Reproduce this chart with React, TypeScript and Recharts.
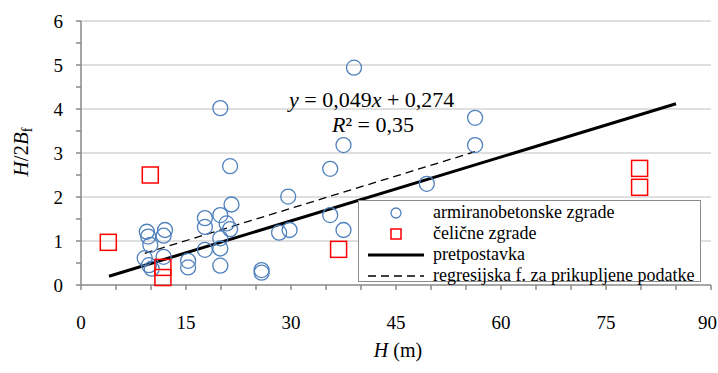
import { ComposedChart, Line, ReferenceLine, Scatter, XAxis, YAxis } from "recharts";

// armiranobetonske zgrade: visina H (m) i omjer H/2Bf
const rcH = [
  39.0, 19.9, 56.3, 37.5, 56.3, 21.3, 35.6, 49.4, 29.6, 21.5, 35.6, 19.9, 17.7, 17.7, 20.8,
  21.3, 37.5, 29.8, 28.3, 19.9, 17.7, 19.9, 19.9, 15.3, 15.3, 25.8, 25.8, 9.4, 9.6, 9.9,
  12.0, 11.8, 9.1, 9.7, 11.8, 10.1,
];
const rcRatio = [
  4.94, 4.02, 3.8, 3.18, 3.18, 2.7, 2.64, 2.3, 2.01, 1.83, 1.59, 1.59, 1.52, 1.32, 1.4,
  1.27, 1.25, 1.25, 1.19, 1.06, 0.8, 0.83, 0.44, 0.55, 0.4, 0.34, 0.28, 1.21, 1.1, 0.91,
  1.25, 1.12, 0.61, 0.45, 0.64, 0.37,
];

// čelične zgrade
const steelH = [3.9, 9.9, 11.7, 11.7, 36.8, 79.8, 79.8];
const steelRatio = [0.97, 2.5, 0.4, 0.17, 0.81, 2.65, 2.22];

// pretpostavka (puna linija) i regresija (isprekidana)
const assumedH = [4, 85];
const assumedRatio = [0.2, 4.12];
const regH = [9.1, 56.3];
const regRatio = [0.72, 3.03];

const xTicks = [0, 5, 10, 15, 20, 25, 30, 35, 40, 45, 50, 55, 60, 65, 70, 75, 80, 85, 90];
const yTicks = [0, 0.5, 1, 1.5, 2, 2.5, 3, 3.5, 4, 4.5, 5, 5.5, 6];
const gridY = [1, 2, 3, 4, 5, 6];

const FONT = "Liberation Serif, Tinos, DejaVu Serif, serif";
const AXIS = "#898989";
const BLUE = "#4f81bd";
const RED = "#ff0000";

const toPoints = (xs: number[], ys: number[]) => xs.map((x, i) => ({ x, y: ys[i] }));

const rcData = toPoints(rcH, rcRatio);
const steelData = toPoints(steelH, steelRatio);
const assumedData = toPoints(assumedH, assumedRatio);
const regData = toPoints(regH, regRatio);

function XTick(props: any) {
  const { x, payload } = props;
  if (payload.value % 15 !== 0) return <g />;
  // zadnja oznaka (90) se ne smije odrezati na rubu
  const last = payload.value === 90;
  return (
    <text
      x={last ? 717 : x}
      y={329}
      textAnchor={last ? "end" : "middle"}
      style={{ fontFamily: FONT }}
      fontSize={19}
      fill="#000"
    >
      {payload.value}
    </text>
  );
}

function YTick(props: any) {
  const { y, payload } = props;
  if (payload.value % 1 !== 0) return <g />;
  return (
    <text x={63} y={y} dy="0.35em" textAnchor="end" style={{ fontFamily: FONT }} fontSize={19} fill="#000">
      {payload.value}
    </text>
  );
}

const circle = (p: any) => (
  <circle cx={p.cx} cy={p.cy} r={7.5} fill="none" stroke={BLUE} strokeWidth={1.3} />
);
const square = (p: any) => (
  <rect x={p.cx - 8} y={p.cy - 8} width={16} height={16} fill="none" stroke={RED} strokeWidth={1.5} />
);

function LegendBox() {
  const row = { display: "flex", alignItems: "center", height: 21 } as const;
  const mark = { width: 74, display: "flex", justifyContent: "center" } as const;
  return (
    <div
      style={{
        position: "absolute",
        left: 358,
        top: 200,
        width: 343,
        height: 82,
        border: "1px solid #8c8c8c",
        background: "#fff",
        fontFamily: FONT,
        fontSize: 18,
        lineHeight: "21px",
        paddingTop: 1,
        boxSizing: "border-box",
      }}
    >
      <div style={row}>
        <div style={mark}>
          <svg width={14} height={14}>
            <circle cx={7} cy={7} r={5} fill="none" stroke={BLUE} strokeWidth={1.3} />
          </svg>
        </div>
        <span>armiranobetonske zgrade</span>
      </div>
      <div style={row}>
        <div style={mark}>
          <svg width={14} height={14}>
            <rect x={2} y={2} width={10} height={10} fill="none" stroke={RED} strokeWidth={1.5} />
          </svg>
        </div>
        <span>čelične zgrade</span>
      </div>
      <div style={row}>
        <div style={mark}>
          <svg width={56} height={6}>
            <line x1={0} y1={3} x2={56} y2={3} stroke="#000" strokeWidth={3} />
          </svg>
        </div>
        <span>pretpostavka</span>
      </div>
      <div style={row}>
        <div style={mark}>
          <svg width={56} height={6}>
            <line x1={0} y1={3} x2={56} y2={3} stroke="#000" strokeWidth={1.3} strokeDasharray="8 5" />
          </svg>
        </div>
        <span>regresijska f. za prikupljene podatke</span>
      </div>
    </div>
  );
}

export default function App() {
  return (
    <div
      style={{
        position: "absolute",
        left: 0,
        top: 0,
        width: 718,
        height: 373,
        background: "#fff",
        fontFamily: FONT,
      }}
    >
      <ComposedChart width={718} height={373} margin={{ top: 21, right: 7, bottom: 38, left: 21 }}>
        {gridY.map((v) => (
          <ReferenceLine key={v} y={v} stroke="#bfbfbf" strokeWidth={1} />
        ))}
        <XAxis
          type="number"
          dataKey="x"
          domain={[0, 90]}
          ticks={xTicks}
          interval={0}
          height={50}
          stroke={AXIS}
          strokeWidth={1.5}
          tickSize={5}
          tick={<XTick />}
        />
        <YAxis
          type="number"
          dataKey="y"
          domain={[0, 6]}
          ticks={yTicks}
          interval={0}
          width={60}
          stroke={AXIS}
          strokeWidth={1.5}
          tickSize={5}
          tick={<YTick />}
        />
        <Scatter data={rcData} shape={circle} isAnimationActive={false} />
        <Scatter data={steelData} shape={square} isAnimationActive={false} />
        <Line
          data={regData}
          dataKey="y"
          type="linear"
          stroke="#000"
          strokeWidth={1.3}
          strokeDasharray="8 5"
          dot={false}
          isAnimationActive={false}
        />
        <Line
          data={assumedData}
          dataKey="y"
          type="linear"
          stroke="#000"
          strokeWidth={3}
          dot={false}
          isAnimationActive={false}
        />
      </ComposedChart>
      <LegendBox />
      <svg
        width={718}
        height={373}
        style={{ position: "absolute", left: 0, top: 0, pointerEvents: "none", fontFamily: FONT }}
      >
        <text x={289} y={107} fontSize={22}>
          <tspan fontStyle="italic">y</tspan> = 0,049<tspan fontStyle="italic">x</tspan> + 0,274
        </text>
        <text x={332} y={132} fontSize={22}>
          <tspan fontStyle="italic">R</tspan>² = 0,35
        </text>
        <text x={28} y={152} fontSize={21} textAnchor="middle" transform="rotate(-90 28 152)">
          <tspan fontStyle="italic">H</tspan>/2<tspan fontStyle="italic">B</tspan>
          <tspan fontSize={14} dy={4}>f</tspan>
        </text>
        <text x={398} y={357} fontSize={20} textAnchor="middle">
          <tspan fontStyle="italic">H</tspan> (m)
        </text>
      </svg>
    </div>
  );
}
